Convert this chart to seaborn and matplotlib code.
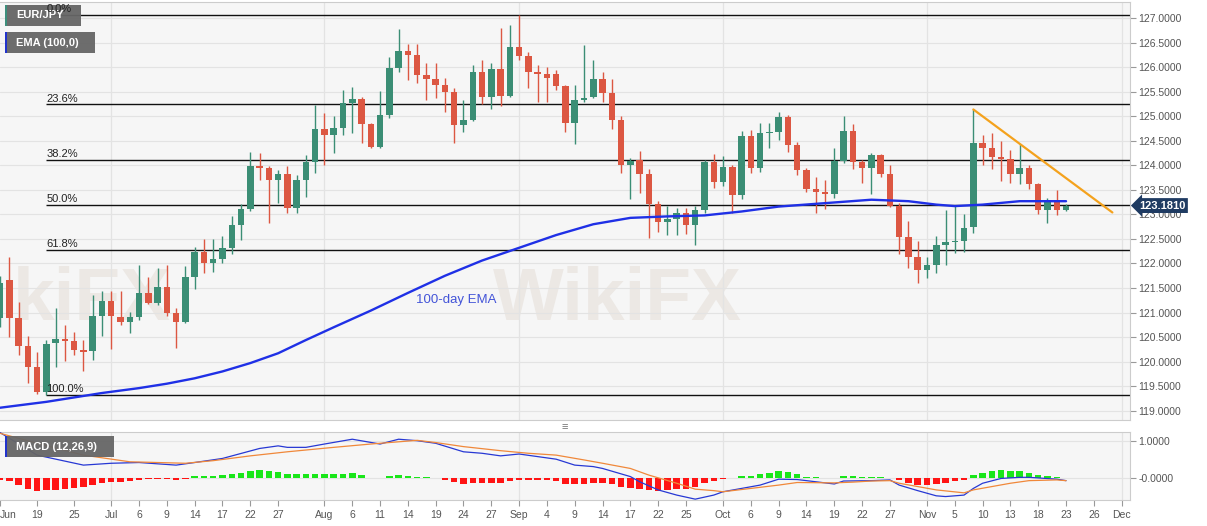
import numpy as np
import pandas as pd
import matplotlib
matplotlib.use('Agg')
import matplotlib.pyplot as plt
from matplotlib.patches import Rectangle
import seaborn as sns

# EUR/JPY 일봉 (2020-06-15 ~ 2020-11-23), 그림에서 읽은 값
opens = [120.88, 121.66, 120.88, 120.31, 119.89, 119.38, 120.37, 120.46, 120.43, 120.24,
         120.22, 120.93, 121.24, 120.91, 120.81, 120.91, 121.39, 121.20, 121.52, 120.99,
         120.81, 121.72, 122.24, 122.02, 122.09, 122.31, 122.78, 123.12, 123.99, 123.94,
         123.70, 123.82, 123.14, 123.71, 124.07, 124.75, 124.62, 124.77, 125.28, 125.36,
         124.84, 124.38, 125.02, 125.98, 126.33, 126.24, 125.84, 125.77, 125.63, 125.49,
         124.82, 124.92, 125.91, 125.40, 125.97, 125.41, 126.42, 126.23, 125.90, 125.86,
         125.87, 125.61, 124.87, 125.33, 125.40, 125.77, 125.47, 124.92, 124.01, 124.11,
         123.82, 123.21, 122.85, 122.90, 123.03, 122.78, 123.10, 124.07, 123.67, 123.96,
         123.40, 124.60, 123.94, 124.66, 124.68, 124.98, 124.41, 123.90, 123.51, 123.46,
         123.41, 124.09, 124.71, 124.07, 123.94, 124.21, 123.82, 123.17, 122.55, 122.13,
         121.87, 121.97, 122.38, 122.44, 122.46, 122.74, 124.46, 124.35, 124.18, 124.12,
         123.82, 123.94, 123.63, 123.09, 123.26, 123.10]
highs = [121.75, 122.13, 121.22, 120.52, 120.20, 120.44, 121.09, 120.75, 120.61, 120.44,
         121.36, 121.43, 121.43, 121.43, 121.02, 121.97, 121.73, 121.90, 121.97, 121.09,
         121.95, 122.33, 122.49, 122.49, 122.56, 122.97, 123.21, 124.28, 124.25, 123.99,
         123.90, 123.99, 123.80, 124.21, 125.23, 125.06, 125.00, 125.53, 125.59, 125.39,
         124.86, 125.52, 126.21, 126.77, 126.48, 126.47, 126.09, 126.08, 125.79, 125.57,
         125.34, 126.04, 126.14, 126.08, 126.79, 126.86, 127.07, 126.31, 126.04, 126.00,
         125.95, 125.64, 125.64, 126.46, 126.14, 125.91, 125.77, 125.00, 124.15, 124.30,
         123.92, 123.28, 123.17, 123.13, 123.14, 123.17, 124.11, 124.24, 124.19, 124.01,
         124.71, 124.73, 124.87, 124.87, 125.09, 125.02, 124.48, 123.94, 123.77, 123.71,
         124.35, 125.00, 124.84, 124.11, 124.26, 124.23, 124.01, 123.23, 122.87, 122.46,
         122.14, 122.56, 123.09, 123.17, 123.01, 125.14, 124.62, 124.66, 124.50, 124.31,
         124.43, 124.01, 123.65, 123.33, 123.50, 123.22]
lows = [120.70, 120.51, 120.14, 119.57, 119.33, 119.32, 119.90, 120.02, 120.14, 119.80,
        120.03, 120.52, 120.25, 120.75, 120.59, 120.85, 121.17, 121.15, 120.92, 120.27,
        120.79, 121.47, 121.81, 121.83, 122.02, 122.19, 122.48, 123.06, 123.71, 122.83,
        123.23, 123.02, 123.02, 123.35, 123.84, 124.01, 124.26, 124.62, 124.66, 124.46,
        124.35, 124.35, 124.96, 125.91, 125.75, 125.67, 125.34, 125.38, 125.09, 124.45,
        124.69, 124.90, 125.26, 125.14, 125.21, 125.39, 126.14, 125.57, 125.30, 125.30,
        125.53, 124.69, 124.43, 125.30, 125.38, 125.30, 124.75, 123.84, 123.31, 123.43,
        122.51, 122.65, 122.58, 122.58, 122.61, 122.38, 123.02, 123.53, 123.58, 123.02,
        123.31, 123.85, 123.87, 124.36, 124.52, 124.28, 123.80, 123.46, 123.02, 123.12,
        123.33, 124.04, 123.92, 123.65, 123.42, 123.77, 123.15, 122.19, 121.90, 121.61,
        121.70, 121.80, 121.97, 122.21, 122.24, 122.62, 124.01, 123.92, 123.69, 123.65,
        123.63, 123.51, 123.01, 122.83, 122.99, 123.08]
closes = [121.60, 120.88, 120.31, 119.89, 119.38, 120.36, 120.46, 120.42, 120.24, 120.20,
          120.93, 121.24, 120.92, 120.81, 120.91, 121.39, 121.20, 121.52, 120.99, 120.81,
          121.72, 122.24, 122.02, 122.09, 122.31, 122.78, 123.12, 123.99, 123.94, 123.70,
          123.82, 123.14, 123.71, 124.07, 124.75, 124.62, 124.77, 125.28, 125.36, 124.84,
          124.38, 125.02, 125.98, 126.33, 126.24, 125.84, 125.77, 125.63, 125.49, 124.82,
          124.92, 125.91, 125.40, 125.97, 125.41, 126.42, 126.23, 125.90, 125.86, 125.79,
          125.62, 124.87, 125.33, 125.38, 125.77, 125.47, 124.92, 124.01, 124.09, 123.82,
          123.21, 122.85, 122.90, 123.03, 122.78, 123.10, 124.07, 123.67, 123.96, 123.40,
          124.60, 123.94, 124.66, 124.68, 124.98, 124.41, 123.90, 123.51, 123.46, 123.41,
          124.09, 124.71, 124.07, 123.94, 124.21, 123.82, 123.17, 122.55, 122.13, 121.87,
          121.97, 122.38, 122.44, 122.46, 122.72, 124.46, 124.35, 124.18, 124.12, 123.82,
          123.94, 123.63, 123.09, 123.26, 123.10, 123.181]

# 100일 EMA (그림에서 읽은 점)
ema_dates = ['06-15', '06-22', '06-30', '07-06', '07-09', '07-14', '07-17', '07-22',
             '07-27', '07-30', '08-04', '08-10', '08-14', '08-20', '08-26', '09-01',
             '09-07', '09-11', '09-17', '09-23', '09-29', '10-05', '10-09', '10-16',
             '10-23', '10-29', '11-03', '11-05', '11-10', '11-16', '11-23']
ema_vals = [119.06, 119.18, 119.36, 119.46, 119.55, 119.66, 119.80, 119.97,
            120.17, 120.44, 120.70, 121.04, 121.40, 121.75, 122.06, 122.32,
            122.58, 122.80, 122.93, 122.96, 122.98, 123.06, 123.16, 123.23,
            123.30, 123.27, 123.20, 123.17, 123.20, 123.27, 123.27]

# 피보나치 되돌림
fib_high, fib_low = 127.07, 119.32
fib_ratios = [0.0, 0.236, 0.382, 0.5, 0.618, 1.0]
fib_labels = ['0.0%', '23.6%', '38.2%', '50.0%', '61.8%', '100.0%']
fib_start = '06-22'

# 하락 추세선
trend_dates = ['11-09', '11-30']
trend_vals = [125.14, 123.04]

# MACD (12,26,9)
macd_hist = [-0.07, -0.09, -0.21, -0.30, -0.36, -0.34, -0.32, -0.30, -0.27, -0.25,
             -0.21, -0.15, -0.12, -0.11, -0.09, -0.05, -0.04, -0.03, -0.03, -0.05,
             -0.04, 0.04, 0.04, 0.05, 0.06, 0.11, 0.14, 0.18, 0.20, 0.18,
             0.15, 0.09, 0.09, 0.09, 0.11, 0.11, 0.11, 0.11, 0.13, 0.06,
             -0.01, -0.01, 0.04, 0.06, 0.04, 0.02, 0.01, -0.02, -0.05, -0.12,
             -0.18, -0.14, -0.14, -0.13, -0.13, -0.08, -0.06, -0.06, -0.07, -0.07,
             -0.08, -0.17, -0.17, -0.17, -0.14, -0.14, -0.16, -0.25, -0.27, -0.30,
             -0.32, -0.36, -0.34, -0.31, -0.30, -0.25, -0.15, -0.09, -0.03, -0.02,
             0.04, 0.05, 0.11, 0.13, 0.17, 0.15, 0.09, 0.02, 0.01, -0.02,
             -0.01, 0.04, 0.04, 0.03, 0.03, 0.02, -0.02, -0.07, -0.14, -0.19,
             -0.21, -0.16, -0.13, -0.09, -0.05, 0.06, 0.13, 0.18, 0.20, 0.18,
             0.17, 0.13, 0.06, 0.04, 0.01, 0.005]
macd_dates = ['06-15', '06-19', '06-26', '07-01', '07-06', '07-10', '07-14', '07-17',
              '07-23', '07-27', '07-28', '07-30', '08-03', '08-06', '08-11', '08-13',
              '08-17', '08-19', '08-24', '08-26', '08-28', '09-01', '09-03', '09-07',
              '09-09', '09-11', '09-14', '09-17', '09-18', '09-22', '09-24', '09-28',
              '09-30', '10-01', '10-05', '10-07', '10-09', '10-13', '10-15', '10-19',
              '10-20', '10-23', '10-27', '10-28', '10-30', '11-03', '11-04', '11-06',
              '11-09', '11-10', '11-12', '11-16', '11-17', '11-20', '11-23']
macd_vals = [1.22, 0.61, 0.34, 0.39, 0.41, 0.34, 0.41, 0.52,
             0.79, 0.86, 0.82, 0.82, 0.91, 1.04, 0.91, 1.04,
             1.00, 0.93, 0.70, 0.66, 0.59, 0.64, 0.57, 0.50,
             0.34, 0.30, 0.25, 0.03, -0.11, -0.33, -0.47, -0.58,
             -0.47, -0.38, -0.29, -0.20, -0.04, -0.05, -0.11, -0.17,
             -0.09, -0.08, -0.06, -0.20, -0.35, -0.49, -0.51, -0.47,
             -0.29, -0.15, -0.02, 0.01, 0.01, -0.04, -0.08]
signal_dates = ['06-15', '06-19', '06-26', '07-03', '07-13', '07-16', '07-22', '07-28',
                '08-04', '08-10', '08-13', '08-17', '08-19', '08-24', '08-28', '09-02',
                '09-07', '09-10', '09-14', '09-17', '09-21', '09-24', '09-28', '09-30',
                '10-01', '10-06', '10-09', '10-13', '10-19', '10-21', '10-23', '10-27',
                '10-28', '10-30', '11-03', '11-06', '11-09', '11-11', '11-13', '11-17',
                '11-20', '11-23']
signal_vals = [1.20, 0.93, 0.61, 0.43, 0.39, 0.46, 0.59, 0.70,
               0.82, 0.91, 0.97, 1.01, 0.95, 0.84, 0.73, 0.66,
               0.61, 0.48, 0.39, 0.25, 0.07, -0.15, -0.31, -0.35,
               -0.38, -0.29, -0.20, -0.13, -0.14, -0.12, -0.09, -0.08,
               -0.15, -0.24, -0.33, -0.41, -0.33, -0.24, -0.15, -0.08,
               -0.06, -0.08]

# x축 눈금
tick_dates = ['06-15', '06-19', '06-25', '07-01', '07-06', '07-09', '07-14', '07-17',
              '07-22', '07-27', '08-03', '08-06', '08-11', '08-14', '08-19', '08-24',
              '08-27', '09-01', '09-04', '09-09', '09-14', '09-17', '09-22', '09-25',
              '10-01', '10-06', '10-09', '10-14', '10-19', '10-22', '10-27', '11-02',
              '11-05', '11-10', '11-13', '11-18', '11-23', '11-26', '12-01']
tick_labels = ['Jun', '19', '25', 'Jul', '6', '9', '14', '17', '22', '27', 'Aug', '6',
               '11', '14', '19', '24', '27', 'Sep', '4', '9', '14', '17', '22', '25',
               'Oct', '6', '9', '14', '19', '22', '27', 'Nov', '5', '10', '13', '18',
               '23', '26', 'Dec']
month_dates = ['07-01', '08-03', '09-01', '10-01', '11-02', '12-01']

days = pd.bdate_range('2020-06-15', '2020-12-01')
pos = {d: i for i, d in enumerate(days)}
def idx(md):
    return pos[pd.Timestamp('2020-' + md)]

GREEN = '#3b8e75'
RED = '#dc5742'
GRID = '#e3e3e3'
BG = '#f6f6f6'

sns.set_style('whitegrid', {'axes.facecolor': BG, 'grid.color': GRID,
                            'axes.edgecolor': '#cccccc'})
plt.rcParams['font.family'] = ['Liberation Sans', 'DejaVu Sans']

fig = plt.figure(figsize=(12.07, 5.26), dpi=100)
ax = fig.add_axes([0, 1 - 420 / 526, 1130 / 1207, 418 / 526])
ax2 = fig.add_axes([0, 1 - 500 / 526, 1130 / 1207, 68 / 526])

x = np.arange(len(closes))
o = np.array(opens); h = np.array(highs); l = np.array(lows); c = np.array(closes)
cols = np.where(c >= o, GREEN, RED)

# 워터마크
ax.text(0.546, 0.287, 'WikiFX', transform=ax.transAxes, fontsize=54, fontweight='bold',
        color='#ece8e4', ha='center', va='center', zorder=0.5)
ax.text(0.011, 0.287, 'kiFX', transform=ax.transAxes, fontsize=54, fontweight='bold',
        color='#ece8e4', ha='left', va='center', zorder=0.5)

# 캔들
ax.vlines(x, l, h, colors=cols, lw=1.0, zorder=3)
ax.bar(x, np.maximum(np.abs(c - o), 0.015), bottom=np.minimum(o, c), width=0.7,
       color=cols, linewidth=0, zorder=4)

# EMA
ema_x = [idx(d) for d in ema_dates]
sns.lineplot(x=ema_x, y=ema_vals, ax=ax, color='#1f30e6', linewidth=1.7, zorder=5)
ax.text(idx('08-20') + 1.2, 121.26, '100-day EMA', color='#4354d8', fontsize=9.5,
        ha='center', va='center', zorder=6)

# 피보나치 선
for r, lab in zip(fib_ratios, fib_labels):
    lvl = fib_high - r * (fib_high - fib_low)
    ax.hlines(lvl, idx(fib_start), 125, color='#111111', lw=1.0, zorder=2)
    ax.text(idx(fib_start), lvl + 0.02, lab, fontsize=8, color='#222222',
            ha='left', va='bottom', zorder=9)

# 추세선
sns.lineplot(x=[idx(d) for d in trend_dates], y=trend_vals, ax=ax, color='#f4a21d',
             linewidth=1.6, zorder=6)

ax.set_xlim(0, 121.9)
ax.set_ylim(118.81, 127.33)
yt = np.arange(119.0, 127.01, 0.5)
ax.set_yticks(yt)
ax.set_yticklabels([f'{v:.4f}' for v in yt])
ax.set_xticks([idx(d) for d in month_dates])
ax.grid(False, axis='x')
for d in month_dates:
    ax.axvline(idx(d), color=GRID, lw=0.9, zorder=1)
    ax2.axvline(idx(d), color=GRID, lw=0.9, zorder=1)
ax.tick_params(axis='y', left=False, right=True, labelleft=False, labelright=True,
               length=4, width=0.8, color='#999999', labelcolor='#555555',
               labelsize=7.5, pad=2)
ax.tick_params(axis='x', bottom=False, labelbottom=False)
ax.spines['left'].set_visible(False)

# 현재가 표시
ax.text(1.008, closes[-1], f'{closes[-1]:.4f}', transform=ax.get_yaxis_transform(),
        ha='left', va='center', color='white', fontsize=8, fontweight='bold',
        bbox=dict(boxstyle='larrow,pad=0.22', fc='#1f3b62', ec='none'),
        clip_on=False, zorder=10)

# MACD
hcols = np.where(np.array(macd_hist) >= 0, '#19e619', '#ff1414')
ax2.bar(x, macd_hist, width=0.7, color=hcols, linewidth=0, zorder=3)
sns.lineplot(x=[idx(d) for d in macd_dates], y=macd_vals, ax=ax2, color='#2738d4',
             linewidth=0.9, zorder=4)
sns.lineplot(x=[idx(d) for d in signal_dates], y=signal_vals, ax=ax2, color='#f0883a',
             linewidth=0.9, zorder=4)
ax2.set_xlim(0, 121.9)
ax2.set_ylim(-0.603, 1.235)
ax2.set_yticks([0, 1])
ax2.set_yticklabels(['-0.0000', '1.0000'])
ax2.set_xticks([idx(d) for d in tick_dates])
ax2.set_xticklabels(tick_labels)
ax2.get_xticklabels()[0].set_horizontalalignment('left')
ax2.grid(False, axis='x')
ax2.tick_params(axis='y', left=False, right=True, labelleft=False, labelright=True,
                length=4, width=0.8, color='#999999', labelcolor='#555555',
                labelsize=7.5, pad=2)
ax2.tick_params(axis='x', bottom=True, length=4, width=0.8, color='#999999',
                labelcolor='#555555', labelsize=7.5, pad=3)
ax2.spines['left'].set_visible(False)

# 범례 상자 (축 안에 그려서 피보나치 글자가 위에 오게)
def tag(axis, px, py, w, label, strip):
    axis.add_patch(Rectangle((px / 1207, 1 - (py + 21) / 526), w / 1207, 21 / 526,
                             transform=fig.transFigure, fc='#666666', ec='none',
                             alpha=0.95, zorder=8, clip_on=False))
    axis.add_patch(Rectangle((px / 1207, 1 - (py + 21) / 526), 2 / 1207, 21 / 526,
                             transform=fig.transFigure, fc=strip, ec='none',
                             zorder=8, clip_on=False))
    axis.text((px + 11) / 1207, 1 - (py + 10.5) / 526, label, color='white',
              transform=fig.transFigure, fontsize=8, fontweight='bold',
              ha='left', va='center', zorder=8.5)

tag(ax, 5, 5, 76, 'EUR/JPY', '#3d8f7c')
tag(ax, 5, 32, 90, 'EMA (100,0)', '#2233cc')
tag(ax2, 5, 436, 109, 'MACD (12,26,9)', '#2233cc')
fig.text(565 / 1207, 1 - 427 / 526, '≡', ha='center', va='center', fontsize=8,
         color='#777777')

fig.savefig('out.png', dpi=100)
